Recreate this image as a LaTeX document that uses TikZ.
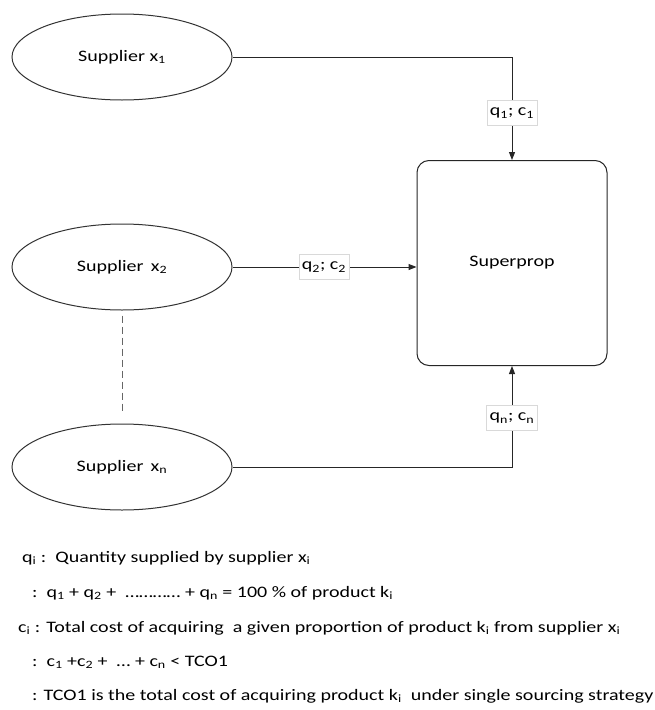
\documentclass[tikz,border=0pt]{standalone}
\usepackage{fontspec}
\setmainfont{Carlito}[FakeStretch=1.25]
\usetikzlibrary{shapes.geometric,arrows.meta}
\begin{document}
\begin{tikzpicture}[x=1pt,y=-1pt,font=\fontsize{16}{18}\selectfont,
        supp/.style={ellipse,draw=black!80,line width=1pt,minimum width=220pt,minimum height=86pt,inner sep=0pt},
        lab/.style={fill=white,draw=black!15,line width=0.5pt,inner sep=3pt,minimum height=25pt},
        conn/.style={draw=black!85,line width=1pt},
        txt/.style={anchor=base west,inner sep=0pt}]
        \useasboundingbox (0,0) rectangle (654,710);
        % suppliers
        \node[supp] (s1) at (122,57) {Supplier x\textsubscript{1}};
        \node[supp] (s2) at (122,267) {Supplier\, x\textsubscript{2}};
        \node[supp] (s3) at (122,467) {Supplier\, x\textsubscript{n}};
        \node[draw=black!85,line width=1pt,rounded corners=12pt,minimum width=190pt,minimum height=205pt] (sp) at (512,263) {Superprop};
        % connectors
        \draw[conn,-{Triangle[length=8pt,width=6pt]}] (s1.east) -| (sp.north);
        \draw[conn,-{Triangle[length=8pt,width=6pt]}] (s2.east) -- (s2.east -| sp.west);
        \draw[conn,-{Triangle[length=8pt,width=6pt]}] (s3.east) -| (sp.south);
        \draw[conn,draw=black!60,dash pattern=on 7pt off 4pt,shorten <=5pt,shorten >=10pt] (s2.south) -- (s3.north);
        \node[lab] (q1) at (512,113) {q\textsubscript{1}; c\textsubscript{1}};
        \node[lab] (q2) at (324,267) {q\textsubscript{2}; c\textsubscript{2}};
        \node[lab] (qn) at (512,418) {q\textsubscript{n}; c\textsubscript{n}};
        % legend
        \node[txt] (t1) at (22,562) {q\textsubscript{i} :\ \ Quantity supplied by supplier x\textsubscript{i}};
        \node[txt] (t2) at (32,597) {:\ \ q\textsubscript{1} + q\textsubscript{2} + \ ………… + q\textsubscript{n} = 100 \% of product k\textsubscript{i}};
        \node[txt] (t3) at (18,632) {c\textsubscript{i} : Total cost of acquiring\ \ a given proportion of product k\textsubscript{i} from supplier x\textsubscript{i}};
        \node[txt] (t4) at (32,666) {:\ \ c\textsubscript{1} +c\textsubscript{2} + \ … + c\textsubscript{n} < TCO1};
        \node[txt] (t5) at (32,700) {: TCO1 is the total cost of acquiring product k\textsubscript{i}\ \ under single sourcing strategy};
\end{tikzpicture}
\end{document}
